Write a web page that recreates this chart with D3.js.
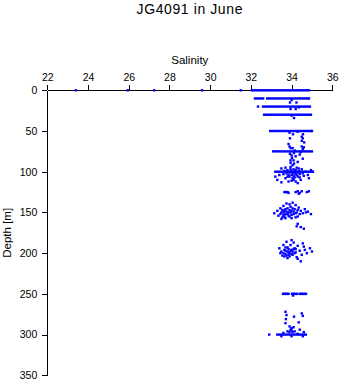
<!DOCTYPE html>
<html>
<head>
<meta charset="utf-8">
<script src="https://d3js.org/d3.v7.min.js"></script>
<style>
  body { margin: 0; background: #fff; }
  text { font-family: "Liberation Sans", Arial, Helvetica, sans-serif; fill: #000; }
</style>
</head>
<body>
<div id="chart"></div>
<script>
// ---- Data ----
const title = "JG4091 in June";
const xTicks = [22, 24, 26, 28, 30, 32, 34, 36];
const yTicks = [0, 50, 100, 150, 200, 250, 300, 350];

// Standard-depth rows: salinity values observed at each depth
const row0Sal = [23.4, 25.95, 27.25, 29.6, 31.5,
  32.05, 32.15, 32.25, 32.35, 32.45, 32.55, 32.65, 32.75, 32.85, 32.95, 33.05, 33.15, 33.25, 33.35,
  33.45, 33.55, 33.65, 33.75, 33.85, 33.95, 34.05, 34.15, 34.25, 34.35, 34.45, 34.55, 34.65, 34.75, 34.85];
const row10Sal = [32.2, 32.3, 32.4, 32.5, 32.6, 32.8, 32.9, 33.0, 33.1, 33.2, 33.3, 33.4, 33.5, 33.6, 33.7,
  33.8, 33.9, 34.0, 34.1, 34.2, 34.3, 34.4, 34.5, 34.6, 34.7, 34.8, 34.85];
const row20Sal = [32.35, 32.6, 32.7, 32.8, 32.9, 33.0, 33.1, 33.2, 33.3, 33.4, 33.5, 33.6, 33.7, 33.8, 33.9,
  34.0, 34.1, 34.2, 34.3, 34.4, 34.5, 34.6, 34.7, 34.8, 34.9];
const row30Sal = [32.65, 32.75, 32.85, 32.95, 33.05, 33.15, 33.25, 33.35, 33.45, 33.55, 33.65, 33.75, 33.85,
  33.95, 34.05, 34.15, 34.25, 34.35, 34.45, 34.55, 34.65, 34.75, 34.85, 34.95];
const row50Sal = [32.95, 33.05, 33.15, 33.25, 33.35, 33.45, 33.55, 33.65, 33.75, 33.85, 33.95, 34.05, 34.15,
  34.25, 34.35, 34.45, 34.55, 34.65, 34.75, 34.85, 34.95, 35.0];
const row75Sal = [33.1, 33.2, 33.3, 33.4, 33.5, 33.6, 33.7, 33.8, 33.9, 34.0, 34.1, 34.2, 34.3, 34.4, 34.5,
  34.6, 34.7, 34.8, 34.9, 35.0];
const row100Sal = [33.2, 33.3, 33.4, 33.5, 33.6, 33.7, 33.8, 33.9, 34.0, 34.1, 34.2, 34.3, 34.4, 34.5, 34.6,
  34.7, 34.8, 34.9, 35.0, 35.05];
const row250Sal = [33.58, 33.63, 33.68, 33.75, 33.8, 33.85, 34.02, 34.07, 34.12, 34.2, 34.28,
  34.41, 34.46, 34.52, 34.58, 34.66, 34.71];
const row300Sal = [32.9, 33.3, 33.4, 33.5, 33.6, 33.7, 33.8, 33.9, 34.0, 34.1, 34.2, 34.3, 34.4, 34.5, 34.6, 34.7];

// Scattered observations [salinity, depth]
const scatterPts = [
  [33.92, 15], [34.24, 15], [34.0, 12], [33.95, 23], [34.2, 23], [34.35, 21], [34.12, 34], [34.0, 31],
  [33.9, 52], [34.07, 54], [34.3, 51], [34.56, 54],
  [33.92, 59], [34.5, 62], [34.62, 64], [34.5, 57], [34.55, 59], [33.85, 66], [33.9, 69], [33.95, 71],
  [34.05, 71], [34.5, 69], [34.55, 72], [34.6, 70],
  [34.15, 74], [34.45, 76], [33.92, 78], [34.0, 80], [34.12, 77], [34.02, 83], [33.95, 86], [34.1, 86],
  [34.2, 81], [33.95, 89], [34.12, 90], [34.05, 92], [34.4, 79], [34.55, 84], [34.3, 88],
  [33.2, 106], [33.3, 110], [33.5, 96], [33.6, 103], [33.7, 108], [33.8, 98], [33.85, 112], [33.95, 94],
  [34.0, 104], [34.05, 108], [34.1, 97], [34.15, 101], [34.2, 112], [34.25, 95], [34.3, 106], [34.35, 99],
  [34.4, 103], [34.45, 110], [34.5, 97], [34.6, 105], [34.7, 100], [34.8, 104], [34.95, 98], [33.5, 113],
  [33.4, 104], [33.65, 99], [34.3, 114], [34.55, 102], [34.85, 108], [33.9, 106], [34.1, 110], [34.0, 99], [34.2, 103],
  [33.75, 102], [33.85, 104], [33.9, 101], [34.05, 102], [34.1, 105], [34.2, 98], [34.25, 104], [34.3, 101],
  [33.95, 97], [33.8, 106], [34.15, 107], [34.4, 107], [34.0, 111], [33.7, 95], [34.35, 96],
  [33.65, 125], [33.72, 125], [33.8, 125], [33.85, 126], [34.2, 125], [34.3, 124], [34.4, 126], [34.5, 124],
  [34.75, 125], [34.85, 124], [34.35, 127],
  [33.15, 151], [33.3, 148], [33.35, 154], [33.45, 145], [33.5, 150], [33.55, 156], [33.6, 142], [33.65, 148],
  [33.7, 152], [33.75, 139], [33.8, 145], [33.85, 150], [33.9, 155], [33.95, 143], [34.0, 148], [34.05, 138],
  [34.1, 152], [34.15, 146], [34.2, 141], [34.25, 150], [34.3, 155], [34.35, 144], [34.45, 148], [34.55, 151],
  [34.65, 146], [34.8, 149], [34.95, 152], [33.5, 158], [33.7, 157], [34.0, 157], [33.9, 140], [34.2, 156],
  [33.6, 153], [34.4, 152], [34.7, 150],
  [33.55, 147], [33.6, 150], [33.7, 146], [33.75, 149], [33.8, 152], [33.9, 147], [33.95, 150], [34.05, 145],
  [34.1, 149], [34.2, 151], [33.85, 154], [33.65, 155], [34.0, 153], [34.3, 147], [33.45, 152],
  [34.3, 164], [34.45, 168], [34.6, 170], [34.25, 167],
  [33.4, 194], [33.5, 198], [33.6, 190], [33.65, 196], [33.7, 201], [33.75, 186], [33.8, 193], [33.85, 199],
  [33.9, 204], [33.95, 190], [34.0, 196], [34.05, 202], [34.1, 187], [34.15, 194], [34.2, 199], [34.25, 205],
  [34.3, 191], [34.4, 197], [34.5, 202], [34.55, 188], [34.65, 196], [34.75, 200], [34.9, 194], [35.0, 198],
  [33.55, 203], [33.8, 206], [34.3, 207], [34.45, 210], [34.0, 184], [34.6, 192], [33.45, 200],
  [33.6, 200], [33.7, 197], [33.75, 203], [33.8, 198], [33.85, 195], [33.9, 200], [33.95, 197], [34.0, 201],
  [34.05, 198], [34.1, 195], [34.15, 200], [33.7, 193], [33.85, 202], [34.2, 195], [33.65, 204],
  [34.07, 252],
  [33.7, 272], [33.75, 276], [33.72, 281], [34.5, 274], [34.55, 277], [34.12, 278], [34.35, 285], [33.7, 286],
  [33.9, 290], [34.0, 292], [34.1, 291], [33.95, 294], [34.15, 296], [34.05, 297], [33.8, 296], [34.4, 294],
  [34.6, 297], [33.6, 298], [34.3, 299], [34.0, 302], [33.5, 302], [34.55, 302], [33.9, 297], [34.0, 295]
];

// ---- Build point list ----
const rows = [
  [0, row0Sal], [10, row10Sal], [20, row20Sal], [30, row30Sal], [50, row50Sal],
  [75, row75Sal], [100, row100Sal], [250, row250Sal], [300, row300Sal]
];
const points = [];
rows.forEach(([d, arr]) => arr.forEach(s => points.push([s, d])));
scatterPts.forEach(p => points.push(p));

// ---- Layout ----
const W = 341, H = 384;
const mLeft = 47.3, mRight = 332.3, mTop = 90.3, mBottom = 375.3;

const svg = d3.select("#chart").append("svg")
  .attr("width", W).attr("height", H);

const x = d3.scaleLinear().domain([22, 36]).range([mLeft, mRight]);
const y = d3.scaleLinear().domain([0, 350]).range([mTop, mBottom]);

// Title
svg.append("text")
  .attr("x", (mLeft + mRight) / 2).attr("y", 14)
  .attr("text-anchor", "middle")
  .style("font-size", "14px").style("letter-spacing", "0.6px")
  .text(title);

// X axis (top)
const xAxis = svg.append("g")
  .attr("transform", `translate(0,${mTop})`)
  .call(d3.axisTop(x).tickValues(xTicks).tickSize(5).tickSizeOuter(0).tickPadding(4).tickFormat(d3.format("d")));
xAxis.selectAll("text").style("font-size", "10.5px");

// Y axis (left)
const yAxis = svg.append("g")
  .attr("transform", `translate(${mLeft},0)`)
  .call(d3.axisLeft(y).tickValues(yTicks).tickSize(5).tickSizeOuter(0).tickPadding(5).tickFormat(d3.format("d")));
yAxis.selectAll("text").style("font-size", "10.5px");

svg.selectAll(".domain, .tick line").attr("stroke", "#000").attr("stroke-width", 1).attr("shape-rendering", "crispEdges");

// Axis titles
svg.append("text")
  .attr("x", (mLeft + mRight) / 2).attr("y", 64)
  .attr("text-anchor", "middle")
  .style("font-size", "11.5px")
  .text("Salinity");

svg.append("text")
  .attr("transform", `translate(11,${(mTop + mBottom) / 2}) rotate(-90)`)
  .attr("text-anchor", "middle")
  .style("font-size", "11.5px")
  .text("Depth [m]");

// Points
const sz = 2.4;
svg.append("g").selectAll("rect")
  .data(points)
  .join("rect")
  .attr("x", d => x(d[0]) - sz / 2)
  .attr("y", d => y(d[1]) - sz / 2)
  .attr("width", sz).attr("height", sz)
  .attr("fill", "#0000ff");
</script>
</body>
</html>
